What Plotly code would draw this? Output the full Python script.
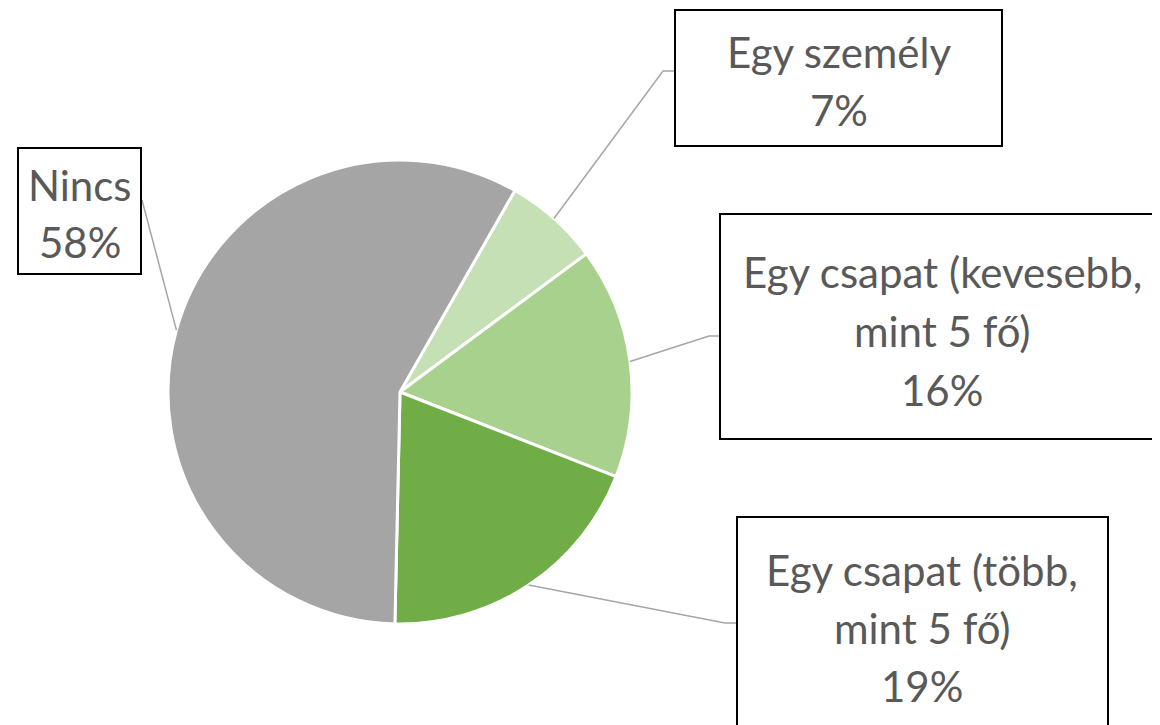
import math
import plotly.graph_objects as go

# ---- data ----
categories = ["Egy személy", "Egy csapat (kevesebb,<br>mint 5 fő)", "Egy csapat (több,<br>mint 5 fő)", "Nincs"]
values = [6.6, 16.1, 19.4, 57.9]
colors = ["#C5E0B4", "#A9D18E", "#70AD47", "#A5A5A5"]
start_angle = 29.7  # degrees clockwise from 12 o'clock

# page has an 8px body margin; work in screen pixels and convert
OFF = 8
W, H = 1160 - OFF, 725 - OFF
CX, CY, R = 400, 392, 232  # pie geometry in screen pixels

def px(x):
    return (x - OFF) / W

def py(y):
    return 1 - (y - OFF) / H

fig = go.Figure(go.Pie(
    labels=categories,
    values=values,
    sort=False,
    direction="clockwise",
    rotation=start_angle,
    marker=dict(colors=colors, line=dict(color="white", width=3)),
    textinfo="none",
    hoverinfo="label+percent",
    domain=dict(x=[px(CX - R), px(CX + R)], y=[py(CY + R), py(CY - R)]),
    showlegend=False,
))

total = sum(values)
pcts = [round(v / total * 100) for v in values]

boxes = [
    dict(box=(675, 10, 1002, 146), cx=838.5, ys=[52, 110], bend=(663, 71), attach=(675, 71)),
    dict(box=(720, 214, 1164, 439), cx=942, ys=[272, 331, 390], bend=(709, 336), attach=(720, 336)),
    dict(box=(737, 517, 1108, 760), cx=922, ys=[570, 628, 686], bend=(725, 623), attach=(737, 623)),
    dict(box=(18, 148, 141, 274), cx=79.5, ys=[185, 242], bend=(142, 200), attach=(142, 200)),
]

shapes = []
annotations = []
acc = 0.0
font = dict(family="Lato, 'Open Sans', sans-serif", size=42, color="#595959")
for i, (cat, v, p) in enumerate(zip(categories, values, pcts)):
    mid = start_angle + (acc + v / 2) / total * 360
    acc += v
    a = math.radians(mid)
    ex, ey = CX + R * math.sin(a), CY - R * math.cos(a)
    b = boxes[i]
    bx, by = b["bend"]
    axx, ayy = b["attach"]
    shapes.append(dict(type="path", xref="paper", yref="paper",
                       path=f"M {px(ex)} {py(ey)} L {px(bx)} {py(by)} L {px(axx)} {py(ayy)}",
                       line=dict(color="#A6A6A6", width=1.5)))
    l, t, r, bt = b["box"]
    shapes.append(dict(type="rect", xref="paper", yref="paper",
                       x0=px(l), x1=px(r), y0=py(bt), y1=py(t),
                       line=dict(color="black", width=2), fillcolor="white"))
    lines = cat.split("<br>") + [f"{p}%"]
    for txt, yy in zip(lines, b["ys"]):
        annotations.append(dict(text=txt, x=px(b["cx"]), y=py(yy), xref="paper", yref="paper",
                                xanchor="center", yanchor="middle", showarrow=False, font=font))

fig.update_layout(
    width=W, height=H,
    margin=dict(l=0, r=0, t=0, b=0),
    paper_bgcolor="white", plot_bgcolor="white",
    shapes=shapes, annotations=annotations,
)

fig.write_html("out.html")
